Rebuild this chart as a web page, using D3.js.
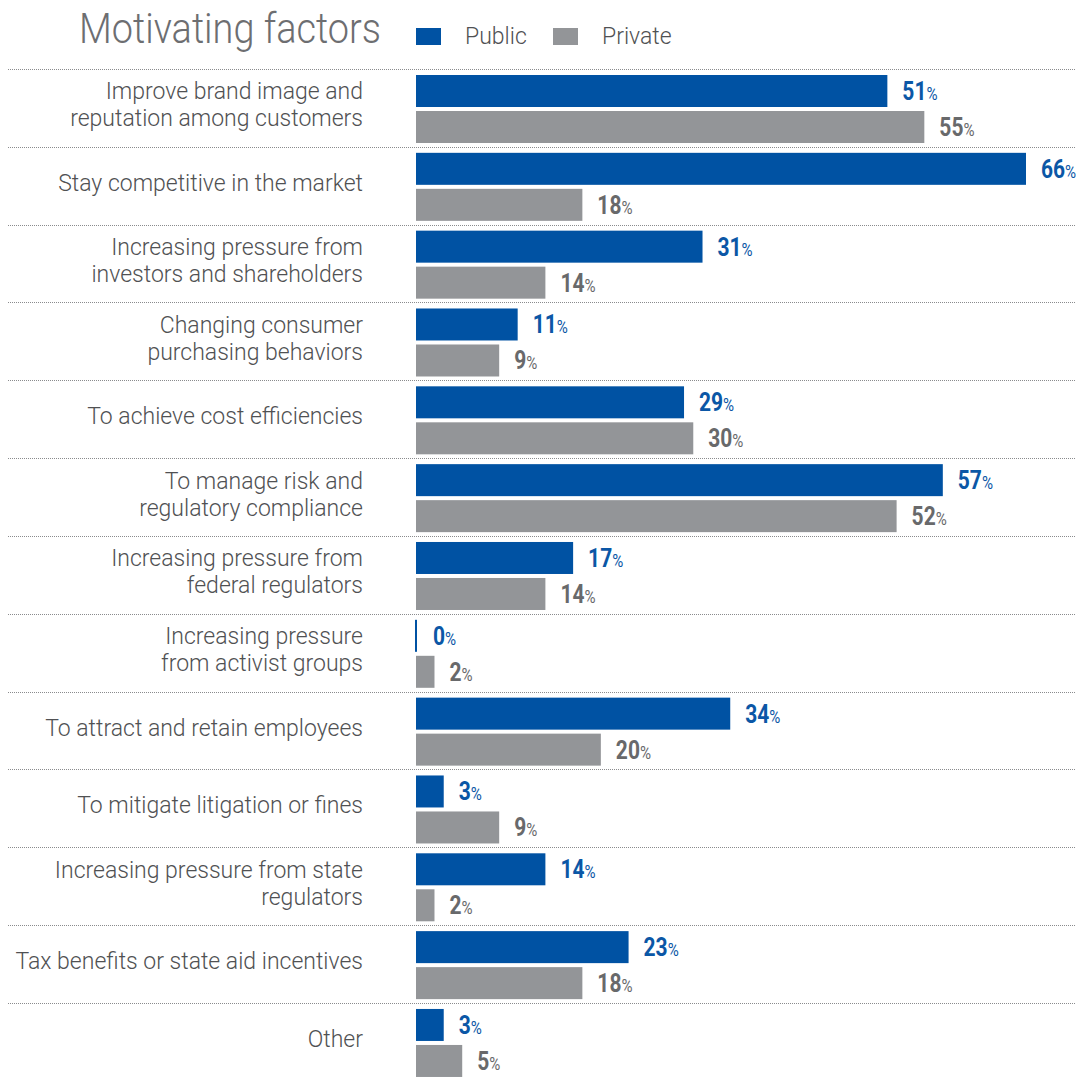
<!DOCTYPE html>
<html>
<head>
<meta charset="utf-8">
<script src="https://cdn.jsdelivr.net/npm/d3@7"></script>
<style>
  html, body { margin: 0; padding: 0; background: #fff; }
  svg { display: block; }
  .cat { font-family: Roboto, "Liberation Sans", sans-serif; font-weight: 300; fill: #505153; }
  .val { font-family: Roboto, "Liberation Sans", sans-serif; font-weight: 700; }
</style>
</head>
<body>
<svg id="chart" width="1076" height="1079"></svg>
<script>
// Survey categories (line breaks mark wrapped labels)
const categories = [
  "Improve brand image and\nreputation among customers",
  "Stay competitive in the market",
  "Increasing pressure from\ninvestors and shareholders",
  "Changing consumer\npurchasing behaviors",
  "To achieve cost efficiencies",
  "To manage risk and\nregulatory compliance",
  "Increasing pressure from\nfederal regulators",
  "Increasing pressure\nfrom activist groups",
  "To attract and retain employees",
  "To mitigate litigation or fines",
  "Increasing pressure from state\nregulators",
  "Tax benefits or state aid incentives",
  "Other"
];
const publicValues  = [51, 66, 31, 11, 29, 57, 17, 0, 34, 3, 14, 23, 3];
const privateValues = [55, 18, 14, 9, 30, 52, 14, 2, 20, 9, 2, 18, 5];
const seriesNames = ["Public", "Private"];
const chartTitle = "Motivating factors";

const colors = { Public: "#0052a3", Private: "#939598" };
const textColors = { Public: "#0b57a6", Private: "#68696b" };

const svg = d3.select("#chart");

// Layout
const rowTop = 69, rowStep = 77.83;
const x0 = 416;
const x = d3.scaleLinear().domain([0, 66]).range([x0, 1026]);
const y = d3.scaleBand()
  .domain(d3.range(categories.length))
  .range([rowTop, rowTop + rowStep * categories.length])
  .paddingInner(0).paddingOuter(0);
const barH = 32, barPad = 6, barGap = 4;

// Title
svg.append("text")
  .attr("x", 79).attr("y", 43)
  .attr("font-family", "Roboto, 'Liberation Sans', sans-serif")
  .attr("font-weight", 300)
  .attr("font-size", 43)
  .attr("fill", "#6d6e71")
  .attr("textLength", 302)
  .attr("lengthAdjust", "spacingAndGlyphs")
  .text(chartTitle);

// Legend
const legend = svg.append("g");
const legendX = [416, 553];
seriesNames.forEach((s, i) => {
  legend.append("rect")
    .attr("x", legendX[i]).attr("y", 28)
    .attr("width", 25).attr("height", 17)
    .attr("fill", colors[s]);
  legend.append("text")
    .attr("x", legendX[i] + 49).attr("y", 44)
    .attr("font-family", "Roboto, 'Liberation Sans', sans-serif")
    .attr("font-weight", 300)
    .attr("font-size", 23)
    .attr("fill", "#505153")
    .text(s);
});

// Dotted row separators
svg.append("g").selectAll("line")
  .data(d3.range(categories.length))
  .join("line")
  .attr("x1", 8).attr("x2", 1076)
  .attr("y1", d => Math.round(y(d)) + 0.5)
  .attr("y2", d => Math.round(y(d)) + 0.5)
  .attr("stroke", "#8a8b8d")
  .attr("stroke-width", 1)
  .attr("stroke-dasharray", "1,1");

// Rows
const rows = svg.append("g").selectAll("g")
  .data(categories.map((c, i) => ({ c, i, pub: publicValues[i], pri: privateValues[i] })))
  .join("g")
  .attr("transform", d => `translate(0,${y(d.i)})`);

// Category labels, right aligned
rows.each(function(d) {
  const lines = d.c.split("\n");
  const lh = 27;
  const center = y.bandwidth() / 2 - 3;
  const firstBase = center - (lines.length - 1) * lh / 2 + 8;
  const t = d3.select(this).append("text")
    .attr("class", "cat")
    .attr("text-anchor", "end")
    .attr("font-size", 23);
  lines.forEach((ln, k) => {
    t.append("tspan").attr("x", 363).attr("y", firstBase + k * lh).text(ln);
  });
});

// Bars and value labels (condensed by a horizontal scale)
seriesNames.forEach((s, si) => {
  const key = si === 0 ? "pub" : "pri";
  const by = barPad + si * (barH + barGap);
  rows.append("rect")
    .attr("x", d => d[key] === 0 ? x0 - 1 : x0)
    .attr("y", by)
    .attr("width", d => Math.max(2, x(d[key]) - x0))
    .attr("height", barH)
    .attr("fill", colors[s]);
  const lbl = rows.append("text")
    .attr("class", "val")
    .attr("transform", d => `translate(${Math.max(x0 + 2, x(d[key])) + 15},${by + barH / 2 + 9}) scale(0.84,1)`)
    .attr("fill", textColors[s]);
  lbl.append("tspan").attr("font-size", 25).text(d => d[key]);
  lbl.append("tspan").attr("font-size", 18).attr("font-weight", 400).text("%");
});
</script>
</body>
</html>
